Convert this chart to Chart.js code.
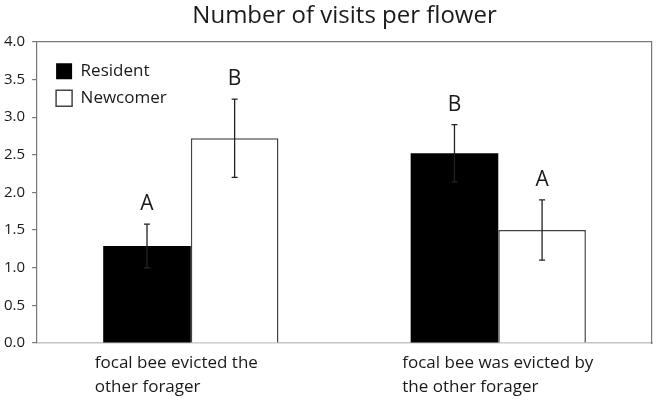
<!DOCTYPE html>
<html>
<head>
<meta charset="utf-8">
<script src="https://cdn.jsdelivr.net/npm/chart.js@4"></script>
<style>
  html, body { margin: 0; padding: 0; background: #fff; }
  #wrap { width: 656px; height: 400px; }
</style>
</head>
<body>
<div id="wrap"><canvas id="chart" width="656" height="400"></canvas></div>
<script>
// data
const categories = [
  ['focal bee evicted the', 'other forager'],
  ['focal bee was evicted by', 'the other forager']
];
const residentValues = [1.29, 2.52];
const residentErrors = [0.29, 0.38];
const residentLetters = ['A', 'B'];
const newcomerValues = [2.72, 1.50];
const newcomerErrors = [0.52, 0.40];
const newcomerLetters = ['B', 'A'];
const yTicks = [0, 0.5, 1, 1.5, 2, 2.5, 3, 3.5, 4];

const FONT = "'Open Sans', 'DejaVu Sans', sans-serif";
const TEXT = '#1a1a1a';

// error bars + significance letters, drawn on top of the bars
const errorBars = {
  id: 'errorBars',
  afterDatasetsDraw(chart) {
    const ctx = chart.ctx;
    const y = chart.scales.y;
    chart.data.datasets.forEach((ds, di) => {
      const meta = chart.getDatasetMeta(di);
      meta.data.forEach((bar, i) => {
        const v = ds.data[i];
        const e = ds.errors[i];
        const top = y.getPixelForValue(v + e);
        const bot = y.getPixelForValue(v - e);
        ctx.save();
        ctx.strokeStyle = '#222';
        ctx.lineWidth = 1.3;
        ctx.beginPath();
        ctx.moveTo(bar.x, top);
        ctx.lineTo(bar.x, bot);
        ctx.moveTo(bar.x - 3, top);
        ctx.lineTo(bar.x + 3, top);
        ctx.moveTo(bar.x - 3, bot);
        ctx.lineTo(bar.x + 3, bot);
        ctx.stroke();
        ctx.fillStyle = TEXT;
        ctx.font = '21px ' + FONT;
        ctx.textAlign = 'center';
        ctx.textBaseline = 'alphabetic';
        ctx.fillText(ds.letters[i], bar.x, top - 14);
        ctx.restore();
      });
    });
  }
};

// put the in-plot legend where the original has it
const legendNudge = {
  id: 'legendNudge',
  afterLayout(chart) {
    const lg = chart.legend;
    if (lg) {
      lg.left = chart.chartArea.left + 9;
      lg.top = chart.chartArea.top + 11;
      lg.bottom = chart.chartArea.bottom;
    }
  }
};

const ctx = document.getElementById('chart').getContext('2d');
new Chart(ctx, {
  type: 'bar',
  data: {
    labels: categories,
    datasets: [
      {
        label: 'Resident',
        data: residentValues,
        errors: residentErrors,
        letters: residentLetters,
        backgroundColor: '#000',
        borderWidth: 0,
        categoryPercentage: 0.57,
        barPercentage: 1.0
      },
      {
        label: 'Newcomer',
        data: newcomerValues,
        errors: newcomerErrors,
        letters: newcomerLetters,
        backgroundColor: '#fff',
        borderColor: '#444',
        borderWidth: 1.5,
        categoryPercentage: 0.57,
        barPercentage: 1.0
      }
    ]
  },
  options: {
    responsive: false,
    animation: false,
    layout: { autoPadding: false, padding: { left: -3, right: 4, top: 0, bottom: -7 } },
    plugins: {
      title: {
        display: true,
        text: 'Number of visits per flower',
        color: TEXT,
        fullSize: false,
        font: { family: FONT, size: 24, weight: 'normal' },
        padding: { top: 2, bottom: 11 }
      },
      legend: {
        position: 'chartArea',
        align: 'start',
        fullSize: false,
        labels: {
          boxWidth: 16,
          boxHeight: 16,
          padding: 10,
          color: TEXT,
          font: { family: FONT, size: 17 }
        }
      },
      tooltip: { enabled: false }
    },
    scales: {
      x: {
        grid: { display: false, drawTicks: false },
        border: { color: '#c4c4c4', width: 1.5 },
        // left-aligned labels would otherwise reserve room on the right
        afterFit(scale) {
          scale.paddingLeft = 0;
          scale.paddingRight = 0;
        },
        ticks: {
          color: TEXT,
          align: 'start',
          labelOffset: -96,
          padding: 8,
          font: { family: FONT, size: 17, lineHeight: 1.41 }
        }
      },
      y: {
        min: 0,
        max: 4,
        afterBuildTicks(scale) {
          scale.ticks = yTicks.map(v => ({ value: v }));
        },
        border: { color: '#777', width: 1.2 },
        grid: {
          color: c => (c.tick && c.tick.value === 4 ? '#777' : 'rgba(0,0,0,0)'),
          tickColor: '#777',
          tickLength: 5,
          lineWidth: 1.2
        },
        ticks: {
          color: TEXT,
          padding: 7,
          font: { family: FONT, size: 15 },
          callback: v => Number(v).toFixed(1)
        }
      },
      y2: {
        position: 'right',
        display: true,
        grid: { display: false, drawTicks: false },
        ticks: { display: false },
        border: { color: '#777', width: 1.2 }
      }
    }
  },
  plugins: [errorBars, legendNudge]
});
</script>
</body>
</html>
